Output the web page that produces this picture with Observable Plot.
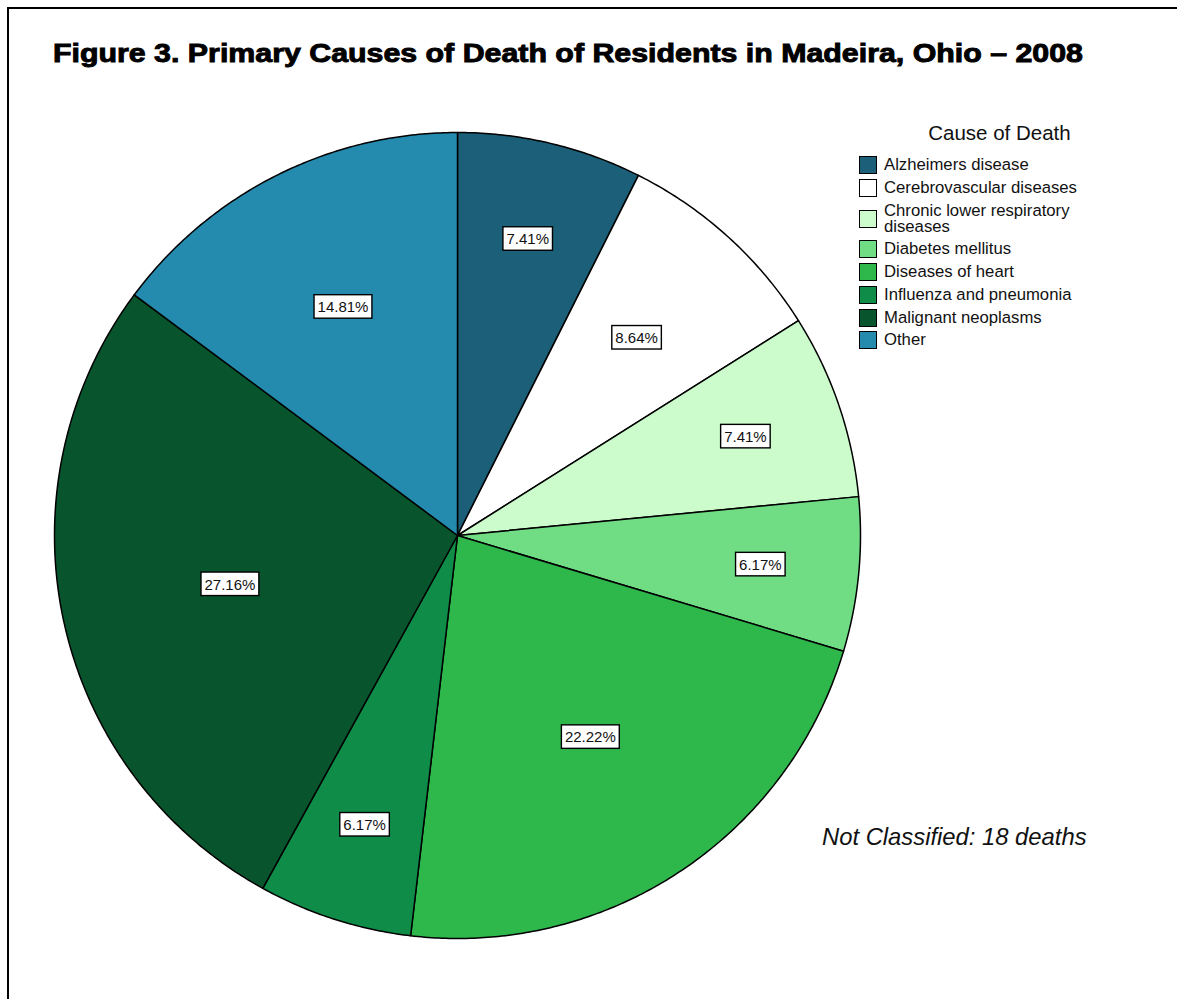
<!DOCTYPE html>
<html>
<head>
<meta charset="utf-8">
<script src="https://cdn.jsdelivr.net/npm/d3@7"></script>
<script src="https://cdn.jsdelivr.net/npm/@observablehq/plot@0.6"></script>
<style>
  body { margin: 0; background: #fff; font-family: "Liberation Sans", Arial, sans-serif; }
  #page { position: relative; width: 1177px; height: 999px; overflow: hidden; background: #fff; }
  #frame { position: absolute; left: 7px; top: 7px; width: 1300px; height: 1100px; border: 2px solid #000; }
  #chart { position: absolute; left: 0; top: 0; }
  #title { position: absolute; left: 53px; top: 40.8px; font-size: 25px; line-height: 25px; font-weight: bold;
           white-space: nowrap; transform-origin: 0 0; -webkit-text-stroke: 0.9px #000; color: #000; }
  #legend-title { position: absolute; left: 849.5px; width: 300px; top: 122.6px; font-size: 20.5px; line-height: 20.5px;
                  text-align: center; color: #111; }
  #legend { position: absolute; left: 859px; top: 153.6px; }
  .row { display: flex; align-items: center; }
  .sw { width: 18px; height: 18px; box-sizing: border-box; border: 1.5px solid #000; margin-right: 7px; flex: none; }
  .lt { font-size: 16.7px; line-height: 16px; padding: 3.4px 0; max-width: 200px; color: #111; }
  #note { position: absolute; left: 822px; top: 825px; font-size: 23.8px; line-height: 23.8px; font-style: italic; color: #111; white-space: nowrap; }
</style>
</head>
<body>
<div id="page">
  <div id="frame"></div>
  <div id="chart"></div>
  <div id="title"></div>
  <div id="legend-title"></div>
  <div id="legend"></div>
  <div id="note"></div>
</div>
<script>
// ---- data ----
const titleText = "Figure 3. Primary Causes of Death of Residents in Madeira, Ohio \u2013 2008";
const legendTitle = "Cause of Death";
const noteText = "Not Classified: 18 deaths";
const causes = [
  "Alzheimers disease",
  "Cerebrovascular diseases",
  "Chronic lower respiratory diseases",
  "Diabetes mellitus",
  "Diseases of heart",
  "Influenza and pneumonia",
  "Malignant neoplasms",
  "Other"
];
const percents = [7.41, 8.64, 7.41, 6.17, 22.22, 6.17, 27.16, 14.81];
const colors = ["#1c5f78", "#ffffff", "#ccfccc", "#70dc84", "#2eb84b", "#0e8c48", "#08552d", "#248aae"];

// ---- layout ----
const W = 1177, H = 999, cx = 457, cy = 535, R = 403;

// slice polygons in unit-circle coordinates (clockwise from 12 o'clock)
const total = d3.sum(percents);
const slicePts = [];
const labels = [];
let cum = 0;
causes.forEach((c, i) => {
  const a0 = cum / total * 2 * Math.PI;
  cum += percents[i];
  const a1 = cum / total * 2 * Math.PI;
  slicePts.push({cause: c, x: 0, y: 0});
  const n = Math.max(4, Math.ceil((a1 - a0) / (Math.PI / 360)));
  for (let k = 0; k <= n; k++) {
    const a = a0 + (a1 - a0) * k / n;
    slicePts.push({cause: c, x: Math.sin(a), y: Math.cos(a)});
  }
  const am = (a0 + a1) / 2;
  // narrow slices push their label further out
  const rl = percents[i] < 8 ? 0.755 : 0.70 - 0.0045 * percents[i];
  labels.push({cause: c, pct: percents[i], x: rl * Math.sin(am), y: rl * Math.cos(am)});
});

const chart = Plot.plot({
  width: W, height: H, margin: 0,
  x: {domain: [-cx / R, (W - cx) / R], axis: null},
  y: {domain: [-(H - cy) / R, cy / R], axis: null},
  color: {domain: causes, range: colors},
  style: {background: "transparent", fontFamily: "'Liberation Sans', Arial, sans-serif", overflow: "visible"},
  marks: [
    Plot.line(slicePts, {x: "x", y: "y", z: "cause", fill: "cause", stroke: "#000", strokeWidth: 1.5,
                         strokeLinejoin: "round", curve: "linear-closed"}),
    Plot.text(labels, {x: "x", y: "y", text: d => d.pct.toFixed(2) + "%", fontSize: 15, fill: "#111"})
  ]
});
document.getElementById("chart").appendChild(chart);

// boxes behind the percentage labels
chart.querySelectorAll('g[aria-label="text"] text').forEach(t => {
  const bb = t.getBBox();
  const r = document.createElementNS("http://www.w3.org/2000/svg", "rect");
  const tr = t.getAttribute("transform");
  if (tr) r.setAttribute("transform", tr);
  r.setAttribute("x", bb.x - 3.5);
  r.setAttribute("y", bb.y - 3.5);
  r.setAttribute("width", bb.width + 7);
  r.setAttribute("height", 23.5);
  r.setAttribute("fill", "#fff");
  r.setAttribute("stroke", "#000");
  r.setAttribute("stroke-width", 1.4);
  t.parentNode.insertBefore(r, t);
});

// title, legend, note
const title = document.getElementById("title");
title.textContent = titleText;
const tw = title.getBoundingClientRect().width;
title.style.transform = `scaleX(${1030 / tw})`;
document.getElementById("legend-title").textContent = legendTitle;
document.getElementById("note").textContent = noteText;
const legend = document.getElementById("legend");
causes.forEach((c, i) => {
  const row = document.createElement("div");
  row.className = "row";
  const sw = document.createElement("div");
  sw.className = "sw";
  sw.style.background = colors[i];
  const lt = document.createElement("div");
  lt.className = "lt";
  lt.textContent = c;
  row.appendChild(sw);
  row.appendChild(lt);
  legend.appendChild(row);
});
</script>
</body>
</html>
